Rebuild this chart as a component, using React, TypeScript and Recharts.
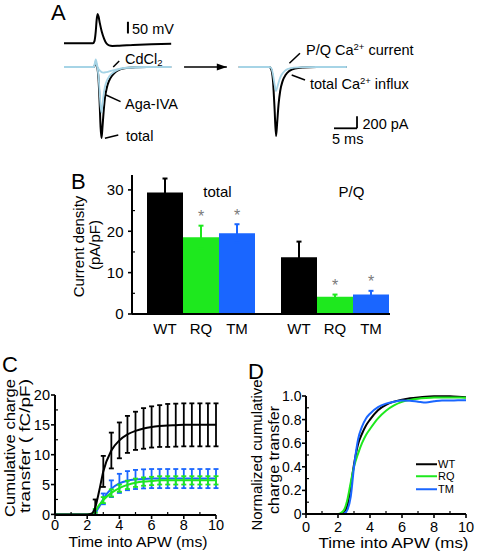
import React from 'react';
import {
  LineChart, Line, BarChart, Bar, XAxis, YAxis, ErrorBar, LabelList,
  ReferenceLine, ReferenceDot, Legend,
} from 'recharts';

const FONT = '"Liberation Sans", Arial, Helvetica, sans-serif';
const BLACK = '#000000';
const GREEN = '#1ee81e';
const BLUE = '#1a66ff';
const LIGHTBLUE = '#a6d4e6';
const STAR = '#7a7a7a';

// ---------------- Panel A : example traces ----------------
// action potential waveform (ms, mV)
const apTime = [0, 6.3, 6.6, 6.9, 7.1, 7.3, 7.5, 7.8, 8.2, 8.7, 9.2, 9.8, 10.5, 12, 15, 19, 23.3];
const apVolt = [-70, -70, -62, -20, 30, 55, 45, 15, -20, -50, -70, -79, -81, -80, -77, -74, -72];

// left currents (ms, pA)
const totalTime = [0, 6.5, 6.85, 7.2, 7.5, 7.75, 7.95, 8.15, 8.35, 8.6, 8.9, 9.3, 9.8, 10.4, 11.2, 12.2, 13.5, 15.5, 18, 23.3];
const totalCurrent = [0, 0, 50, 0, -200, -600, -1000, -1185, -1020, -760, -520, -350, -230, -150, -85, -40, -15, -5, 0, 0];
const agaCurrent = [0, 0, 90, 10, -150, -420, -650, -760, -640, -470, -330, -230, -160, -110, -65, -32, -12, -4, 0, 0];
const cdTime = [0, 6.5, 6.9, 7.3, 7.8, 8.5, 9.3, 10.2, 11.5, 13, 15, 18, 23.3];
const cdCurrent = [0, 0, 125, 0, -60, -95, -85, -65, -40, -20, -8, 0, 0];

// right currents (ms, pA)
const pqTime = [38, 44.6, 45.0, 45.4, 45.8, 46.1, 46.4, 46.8, 47.3, 48, 48.8, 50, 52, 55, 61.5];
const pqCurrent = [0, 0, -15, -110, -300, -400, -330, -220, -130, -65, -30, -10, -2, 0, 0];
const influxTime = [38, 44.6, 45.0, 45.4, 45.75, 46.1, 46.35, 46.65, 47.0, 47.5, 48.2, 49, 50.2, 52, 55, 61.5];
const influxCurrent = [0, 0, -30, -200, -650, -1150, -920, -620, -400, -240, -130, -65, -25, -8, 0, 0];

// annotation segments in data units [t1, i1, t2, i2]
const leaderCd = [10.7, 0, 12.0, 100];
const leaderAga = [9.13, -467, 12.3, -578];
const leaderTotal = [8.9, -1188, 11.8, -1133];
const leaderPQ = [49.0, 62, 51.3, 228];
const leaderInflux = [49.5, -133, 52.4, -217];
const scaleBarTime = [58.7, 63.7];
const scaleBarCurrent = [-1022, -822];
const arrowSpan = [26.1, 35.4];
const mvBar = [13.9, -28, 22];

const apData = apTime.map((t, i) => ({ t, v: apVolt[i] }));
const totalData = totalTime.map((t, i) => ({ t, v: totalCurrent[i] }));
const agaData = totalTime.map((t, i) => ({ t, v: agaCurrent[i] }));
const cdData = cdTime.map((t, i) => ({ t, v: cdCurrent[i] }));
const pqData = pqTime.map((t, i) => ({ t, v: pqCurrent[i] }));
const influxData = influxTime.map((t, i) => ({ t, v: influxCurrent[i] }));
const arrowData = arrowSpan.map((t) => ({ t, v: 0 }));

// ---------------- Panel B : current density ----------------
const groups = ['total', 'P/Q'];
const genotypes = ['WT', 'RQ', 'TM'];
const genotypeColors = [BLACK, GREEN, BLUE];
const significant = [false, true, true];
const wtDensity = [29.35, 13.7];
const wtDensityErr = [3.4, 3.8];
const rqDensity = [18.55, 4.2];
const rqDensityErr = [2.8, 0.5];
const tmDensity = [19.5, 4.7];
const tmDensityErr = [2.2, 0.9];

const bData = groups.map((g, i) => ({
  group: g,
  WT: wtDensity[i], WTerr: wtDensityErr[i],
  RQ: rqDensity[i], RQerr: rqDensityErr[i],
  TM: tmDensity[i], TMerr: tmDensityErr[i],
}));

const B_YMAX = 33.6;
const B_PLOT_H = 139;

// ---------------- Panel C : cumulative charge ----------------
const cTime = [0, 1, 2, 2.25, 2.5, 2.75, 3, 3.5, 4, 4.5, 5, 5.5, 6, 6.5, 7, 7.5, 8, 8.5, 9, 9.5, 10];
const cWT = [0, 0, 0, 0.1, 1.2, 4.0, 7.2, 10.7, 12.4, 13.4, 14.0, 14.4, 14.65, 14.8, 14.9, 14.95, 15.0, 15.0, 15.0, 15.0, 15.0];
const cWTerr = [0, 0, 0, 0, 1.3, 0, 2.6, 3.0, 3.0, 3.1, 3.2, 3.4, 3.45, 3.5, 3.6, 3.6, 3.6, 3.6, 3.6, 3.6, 3.6];
const cRQ = [0, 0, 0, 0.05, 0.6, 1.6, 2.4, 3.6, 4.4, 4.95, 5.3, 5.5, 5.6, 5.7, 5.7, 5.7, 5.7, 5.7, 5.7, 5.7, 5.7];
const cRQerr = [0, 0, 0, 0, 0.3, 0, 0.5, 0.6, 0.6, 0.7, 0.7, 0.7, 0.7, 0.7, 0.7, 0.7, 0.7, 0.7, 0.7, 0.7, 0.7];
const cTM = [0, 0, 0, 0, 0.3, 1.3, 2.6, 4.3, 5.2, 5.65, 5.85, 5.95, 6.0, 6.0, 6.0, 6.0, 6.0, 6.0, 6.0, 6.0, 6.0];
const cTMerr = [0, 0, 0, 0, 0.3, 0, 0.9, 1.4, 1.6, 1.6, 1.6, 1.6, 1.6, 1.6, 1.6, 1.6, 1.6, 1.6, 1.6, 1.6, 1.6];

const cData = cTime.map((t, i) => ({
  t, WT: cWT[i], WTerr: cWTerr[i], RQ: cRQ[i], RQerr: cRQerr[i], TM: cTM[i], TMerr: cTMerr[i],
}));

// ---------------- Panel D : normalized cumulative charge ----------------
const dTime = [0, 2, 2.2, 2.4, 2.6, 2.8, 3.0, 3.25, 3.5, 3.75, 4, 4.5, 5, 5.5, 6, 6.5, 7, 7.5, 8, 8.5, 9, 9.5, 10];
const dWT = [0, 0, 0.005, 0.02, 0.08, 0.24, 0.42, 0.59, 0.68, 0.75, 0.8, 0.88, 0.925, 0.952, 0.968, 0.98, 0.988, 0.994, 0.997, 0.998, 0.997, 0.994, 0.99];
const dRQ = [0, 0, 0.01, 0.04, 0.13, 0.27, 0.4, 0.51, 0.6, 0.67, 0.72, 0.81, 0.875, 0.92, 0.95, 0.967, 0.977, 0.983, 0.987, 0.988, 0.988, 0.987, 0.985];
const dTM = [0, 0, 0, 0.005, 0.04, 0.15, 0.4, 0.63, 0.74, 0.81, 0.85, 0.905, 0.935, 0.952, 0.962, 0.96, 0.952, 0.945, 0.955, 0.962, 0.962, 0.963, 0.963];

const dData = dTime.map((t, i) => ({ t, WT: dWT[i], RQ: dRQ[i], TM: dTM[i] }));

// axis tick lists
const timeTicks = [0, 1, 2, 3, 4, 5, 6, 7, 8, 9, 10];
const timeMajor = [0, 2, 4, 6, 8, 10];
const bTicks = [0, 5, 10, 15, 20, 25, 30];
const bMajor = [0, 10, 20, 30];
const cYTicks = [0, 2.5, 5, 7.5, 10, 12.5, 15, 17.5, 20];
const cYMajor = [0, 5, 10, 15, 20];
const dYTicks = [0, 0.1, 0.2, 0.3, 0.4, 0.5, 0.6, 0.7, 0.8, 0.9, 1.0];
const dYMajor = [0, 0.2, 0.4, 0.6, 0.8, 1.0];

const isIn = (arr: number[], v: number) => arr.some((m) => Math.abs(m - v) < 1e-6);

function makeYTick(axisX: number, majors: number[], fmt: (v: number) => string, fs: number, gap: number) {
  return function YTick(props: any) {
    const { y, payload } = props;
    const v = Number(payload.value);
    const major = isIn(majors, v);
    return (
      <g>
        {major ? (
          <line x1={axisX - 4} x2={axisX} y1={y} y2={y} stroke={BLACK} strokeWidth={1.6} />
        ) : (
          <line x1={axisX} x2={axisX + 3} y1={y} y2={y} stroke={BLACK} strokeWidth={1.2} />
        )}
        {major && (
          <text x={axisX - gap} y={y} dy="0.36em" textAnchor="end" fontSize={fs} fill={BLACK} fontFamily={FONT}>
            {fmt(v)}
          </text>
        )}
      </g>
    );
  };
}

function makeXTick(axisY: number, majors: number[], fs: number, labelDy: number) {
  return function XTick(props: any) {
    const { x, payload } = props;
    const v = Number(payload.value);
    const major = isIn(majors, v);
    return (
      <g>
        {major ? (
          <line x1={x} x2={x} y1={axisY} y2={axisY + 4} stroke={BLACK} strokeWidth={1.6} />
        ) : (
          <line x1={x} x2={x} y1={axisY} y2={axisY - 3} stroke={BLACK} strokeWidth={1.2} />
        )}
        {major && (
          <text x={x} y={axisY + labelDy} textAnchor="middle" fontSize={fs} fill={BLACK} fontFamily={FONT}>
            {String(v)}
          </text>
        )}
      </g>
    );
  };
}

function StarLabel(props: any) {
  const vb = props.viewBox || {};
  const x = props.x ?? vb.x;
  const y = props.y ?? vb.y;
  const w = props.width ?? vb.width;
  const err = Number(props.value) || 0;
  const capY = y - err * (B_PLOT_H / B_YMAX);
  return (
    <text x={x + w / 2} y={capY - 3.5} textAnchor="middle" fontSize={16} fill={STAR} fontFamily={FONT}>*</text>
  );
}

function GroupLabel(props: any) {
  const vb = props.viewBox || {};
  const x = props.x ?? vb.x;
  const w = props.width ?? vb.width;
  return (
    <text x={x + w / 2 + 16.5} y={37} textAnchor="middle" fontSize={15} fill={BLACK} fontFamily={FONT}>
      {props.value}
    </text>
  );
}

const seg = (s: number[]) => [{ x: s[0], y: s[1] }, { x: s[2], y: s[3] }];

function ArrowHead(props: any) {
  const { cx, cy } = props;
  return <polygon points={`${cx},${cy} ${cx - 10},${cy - 3.5} ${cx - 10},${cy + 3.5}`} fill={BLACK} />;
}

const LEG_ROW = 12.5;

function DLegend() {
  return (
    <div style={{ fontFamily: FONT }}>
      {genotypes.map((g, i) => (
        <div key={g} style={{ display: 'flex', alignItems: 'center', height: LEG_ROW }}>
          <svg width={21} height={LEG_ROW} style={{ display: 'block' }}>
            <line x1={0} x2={21} y1={LEG_ROW / 2} y2={LEG_ROW / 2} stroke={genotypeColors[i]} strokeWidth={2} />
          </svg>
          <span style={{ fontSize: 11, lineHeight: `${LEG_ROW}px`, color: BLACK, marginLeft: 1.5 }}>{g}</span>
        </div>
      ))}
    </div>
  );
}

const abs = (left: number, top: number): React.CSSProperties => ({ position: 'absolute', left, top });

export default function App() {
  const tx = { fontFamily: FONT, fill: BLACK } as const;
  return (
    <div style={{ position: 'absolute', left: 0, top: 0, width: 477, height: 553, background: '#fff', overflow: 'hidden', fontFamily: FONT }}>
      {/* Panel A: action potential */}
      <div style={abs(64, 10)}>
        <LineChart width={294.4} height={40} margin={{ top: 0, right: 0, bottom: 0, left: 0 }}>
          <XAxis type="number" dataKey="t" domain={[0, 64]} hide allowDataOverflow />
          <YAxis type="number" domain={[-98.6, 72.3]} hide allowDataOverflow />
          <Line data={apData} dataKey="v" type="monotone" stroke={BLACK} strokeWidth={2} dot={false} isAnimationActive={false} />
          <ReferenceLine segment={[{ x: mvBar[0], y: mvBar[1] }, { x: mvBar[0], y: mvBar[2] }]} stroke={BLACK} strokeWidth={2} />
        </LineChart>
      </div>
      {/* Panel A: currents */}
      <div style={abs(64, 49)}>
        <LineChart width={294.4} height={91} margin={{ top: 0, right: 0, bottom: 0, left: 0 }}>
          <XAxis type="number" dataKey="t" domain={[0, 64]} hide allowDataOverflow />
          <YAxis type="number" domain={[-1217, 300]} hide allowDataOverflow />
          <Line data={totalData} dataKey="v" type="monotone" stroke={BLACK} strokeWidth={2} dot={false} isAnimationActive={false} />
          <Line data={influxData} dataKey="v" type="monotone" stroke={BLACK} strokeWidth={2} dot={false} isAnimationActive={false} />
          <Line data={agaData} dataKey="v" type="monotone" stroke={LIGHTBLUE} strokeWidth={1.8} dot={false} isAnimationActive={false} />
          <Line data={cdData} dataKey="v" type="monotone" stroke={LIGHTBLUE} strokeWidth={1.8} dot={false} isAnimationActive={false} />
          <Line data={pqData} dataKey="v" type="monotone" stroke={LIGHTBLUE} strokeWidth={1.8} dot={false} isAnimationActive={false} />
          <Line data={arrowData} dataKey="v" type="linear" stroke={BLACK} strokeWidth={1.3} dot={false} isAnimationActive={false} />
          <ReferenceDot x={arrowSpan[1]} y={0} shape={ArrowHead} />
          <ReferenceLine segment={seg(leaderCd)} stroke={BLACK} strokeWidth={1.5} />
          <ReferenceLine segment={seg(leaderAga)} stroke={BLACK} strokeWidth={1.5} />
          <ReferenceLine segment={seg(leaderTotal)} stroke={BLACK} strokeWidth={1.5} />
          <ReferenceLine segment={seg(leaderPQ)} stroke={BLACK} strokeWidth={1.5} />
          <ReferenceLine segment={seg(leaderInflux)} stroke={BLACK} strokeWidth={1.5} />
          <ReferenceLine segment={[{ x: scaleBarTime[0], y: scaleBarCurrent[0] }, { x: scaleBarTime[1], y: scaleBarCurrent[0] }]} stroke={BLACK} strokeWidth={1.8} />
          <ReferenceLine segment={[{ x: scaleBarTime[1], y: scaleBarCurrent[0] }, { x: scaleBarTime[1], y: scaleBarCurrent[1] }]} stroke={BLACK} strokeWidth={1.8} />
        </LineChart>
      </div>

      {/* Panel B */}
      <div style={abs(60, 160)}>
        <BarChart width={330} height={179} data={bData} margin={{ top: 15, right: 0, bottom: 0, left: 0 }} barGap={0} barSize={36}>
          <XAxis dataKey="group" tick={false} tickLine={false} axisLine={{ stroke: BLACK, strokeWidth: 2 }} height={25} padding={{ left: 2, right: -12 }} />
          <YAxis type="number" width={72} domain={[0, B_YMAX]} ticks={bTicks} interval={0} tickLine={false}
            axisLine={{ stroke: BLACK, strokeWidth: 2 }} tick={makeYTick(72, bMajor, (v) => String(v), 15, 8.5)} />
          {genotypes.map((g, gi) => (
            <Bar key={g} dataKey={g} fill={genotypeColors[gi]} isAnimationActive={false}>
              <ErrorBar dataKey={`${g}err`} width={2.5} strokeWidth={2} stroke={genotypeColors[gi]} direction="y" />
              <LabelList dataKey={g} position="bottom" offset={9} formatter={() => g} fill={BLACK} fontSize={15} fontFamily={FONT} />
              {significant[gi] && <LabelList dataKey={`${g}err`} content={StarLabel} />}
              {gi === 1 && <LabelList dataKey="group" content={GroupLabel} />}
            </Bar>
          ))}
        </BarChart>
      </div>

      {/* Panel C */}
      <div style={abs(0, 380)}>
        <LineChart width={232} height={162} data={cData} margin={{ top: 15, right: 16, bottom: 0, left: 0 }}>
          <XAxis type="number" dataKey="t" domain={[0, 10]} ticks={timeTicks} interval={0} height={27} tickLine={false}
            axisLine={{ stroke: BLACK, strokeWidth: 2 }} tick={makeXTick(135, timeMajor, 14.5, 15)} />
          <YAxis type="number" width={55} domain={[0, 20]} ticks={cYTicks} interval={0} tickLine={false}
            axisLine={{ stroke: BLACK, strokeWidth: 2 }} tick={makeYTick(55, cYMajor, (v) => String(v), 14.5, 5)} />
          <Line dataKey="TM" type="monotone" stroke={BLUE} strokeWidth={2} dot={false} isAnimationActive={false}>
            <ErrorBar dataKey="TMerr" width={2.5} strokeWidth={1.8} stroke={BLUE} direction="y" />
          </Line>
          <Line dataKey="RQ" type="monotone" stroke={GREEN} strokeWidth={2} dot={false} isAnimationActive={false}>
            <ErrorBar dataKey="RQerr" width={2.5} strokeWidth={1.8} stroke={GREEN} direction="y" />
          </Line>
          <Line dataKey="WT" type="monotone" stroke={BLACK} strokeWidth={2} dot={false} isAnimationActive={false}>
            <ErrorBar dataKey="WTerr" width={2.5} strokeWidth={1.8} stroke={BLACK} direction="y" />
          </Line>
        </LineChart>
      </div>

      {/* Panel D */}
      <div style={abs(237, 380)}>
        <LineChart width={240} height={162} data={dData} margin={{ top: 16, right: 11, bottom: 0, left: 0 }}>
          <XAxis type="number" dataKey="t" domain={[0, 10]} ticks={timeTicks} interval={0} height={28} tickLine={false}
            axisLine={{ stroke: BLACK, strokeWidth: 2 }} tick={makeXTick(134, timeMajor, 14.5, 17.5)} />
          <YAxis type="number" width={69} domain={[0, 1]} ticks={dYTicks} interval={0} tickLine={false}
            axisLine={{ stroke: BLACK, strokeWidth: 2 }} tick={makeYTick(69, dYMajor, (v) => (v === 0 ? '0' : v.toFixed(1)), 14, 4.5)} />
          <Line dataKey="WT" type="monotone" stroke={BLACK} strokeWidth={2} dot={false} isAnimationActive={false} />
          <Line dataKey="RQ" type="monotone" stroke={GREEN} strokeWidth={2} dot={false} isAnimationActive={false} />
          <Line dataKey="TM" type="monotone" stroke={BLUE} strokeWidth={2} dot={false} isAnimationActive={false} />
          <Legend layout="vertical" align="center" verticalAlign="middle"
            wrapperStyle={{ left: 178.5, top: 77.5, width: 60, height: 38 }} content={() => <DLegend />} />
        </LineChart>
      </div>

      {/* text overlay */}
      <svg width={477} height={553} style={{ position: 'absolute', left: 0, top: 0, pointerEvents: 'none' }}>
        <g {...tx}>
          <text x={51} y={20} fontSize={22}>A</text>
          <text x={71} y={188.5} fontSize={22}>B</text>
          <text x={2} y={371.5} fontSize={22}>C</text>
          <text x={248} y={378.5} fontSize={22}>D</text>

          <text x={132} y={34} fontSize={14.5}>50 mV</text>
          <text x={125} y={63.5} fontSize={14.5}>CdCl<tspan fontSize={9.5} dy={2}>2</tspan></text>
          <text x={125} y={108.5} fontSize={14.5}>Aga-IVA</text>
          <text x={126} y={141} fontSize={14.5}>total</text>
          <text x={306} y={54.5} fontSize={14.5}>P/Q Ca<tspan fontSize={9.5} dy={-5}>2+</tspan><tspan dy={5}> current</tspan></text>
          <text x={310} y={88.5} fontSize={14.5}>total Ca<tspan fontSize={9.5} dy={-5}>2+</tspan><tspan dy={5}> influx</tspan></text>
          <text x={362.5} y={128.5} fontSize={14.5}>200 pA</text>
          <text x={332} y={144} fontSize={14.5}>5 ms</text>

          <text transform="translate(84,246.5) rotate(-90)" textAnchor="middle" fontSize={15}>Current density</text>
          <text transform="translate(100,245) rotate(-90)" textAnchor="middle" fontSize={15}>(pA/pF)</text>

          <text transform="translate(14.5,448) rotate(-90)" textAnchor="middle" fontSize={15} textLength={138} lengthAdjust="spacingAndGlyphs">Cumulative charge</text>
          <text transform="translate(30,446) rotate(-90)" textAnchor="middle" fontSize={15} textLength={134} lengthAdjust="spacingAndGlyphs">transfer ( fC/pF)</text>
          <text x={138} y={547} textAnchor="middle" fontSize={15.5} textLength={139} lengthAdjust="spacingAndGlyphs">Time into APW (ms)</text>

          <text transform="translate(261.5,455) rotate(-90)" textAnchor="middle" fontSize={15.5} textLength={151} lengthAdjust="spacingAndGlyphs">Normalized cumulative</text>
          <text transform="translate(279,460) rotate(-90)" textAnchor="middle" fontSize={15.5} textLength={108} lengthAdjust="spacingAndGlyphs">charge transfer</text>
          <text x={393.5} y={548} textAnchor="middle" fontSize={15.5} textLength={150} lengthAdjust="spacingAndGlyphs">Time into APW (ms)</text>
        </g>
      </svg>
    </div>
  );
}
